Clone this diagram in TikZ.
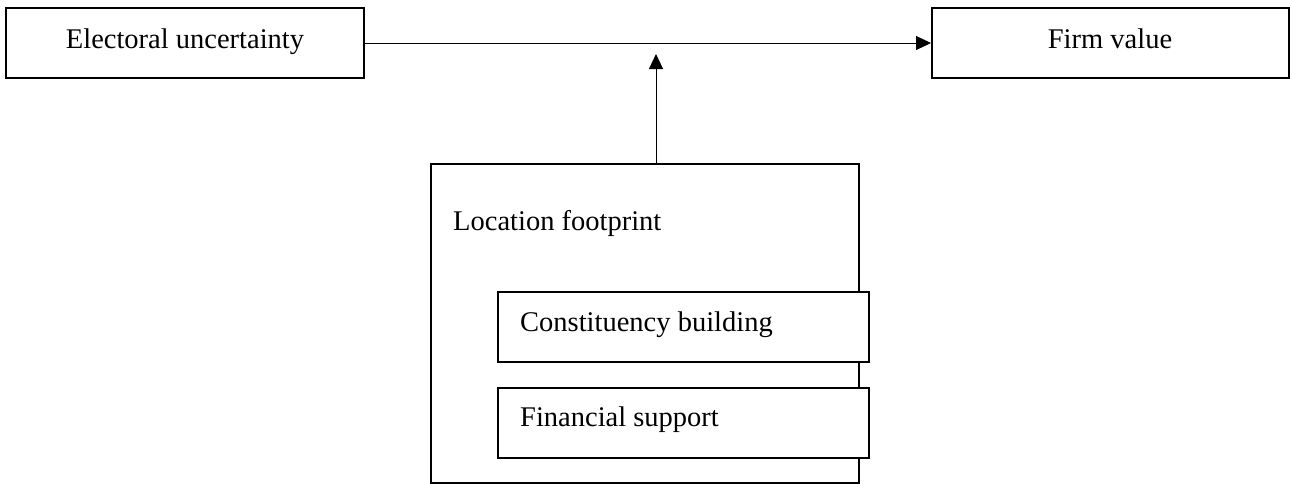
\documentclass[tikz,border=0pt]{standalone}
\usepackage{fontspec}
\setmainfont{Liberation Serif}
\usetikzlibrary{arrows.meta}
\begin{document}
\begin{tikzpicture}[x=1pt,y=-1pt,
  boxst/.style={draw=black,line width=2pt},
  txt/.style={inner sep=0pt,font=\fontsize{28.5}{32}\selectfont},
  conn/.style={line width=1pt,-{Triangle[length=15pt,width=14pt]}}]
\useasboundingbox (0,0) rectangle (1290,483);
\fill[white] (0,0) rectangle (1290,483);
\node[boxst,minimum width=358pt,minimum height=70pt,inner sep=0pt] (eu) at (185,43) {};
\node[txt,anchor=base] (eut) at (185,48) {Electoral uncertainty};
\node[boxst,minimum width=357pt,minimum height=70pt,inner sep=0pt] (fv) at (1110.5,43) {};
\node[txt,anchor=base] (fvt) at (1110,48) {Firm value};
\draw[boxst] (431,164) rectangle (859,483);
\coordinate (lfTop) at (656,164);
\coordinate (arrEnd) at (656,54);
\node[txt,anchor=base west] (lf) at (453,230) {Location footprint};
\node[boxst,minimum width=371pt,minimum height=70pt,inner sep=0pt,fill=white] (cb) at (683.5,327) {};
\node[txt,anchor=base west] (cbt) at (520,331) {Constituency building};
\node[boxst,minimum width=371pt,minimum height=70pt,inner sep=0pt,fill=white] (fs) at (683.5,423) {};
\node[txt,anchor=base west] (fst) at (520,426) {Financial support};
\draw[conn] (eu.east) -- (fv.west);
\draw[conn] (lfTop) -- (arrEnd);
\end{tikzpicture}
\end{document}
